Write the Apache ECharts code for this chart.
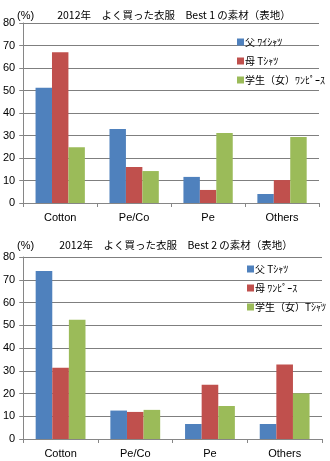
<!DOCTYPE html>
<html><head><meta charset="utf-8">
<script src="https://cdn.jsdelivr.net/npm/echarts@6/dist/echarts.min.js"></script>
<style>html,body{margin:0;padding:0;background:#fff}#c{width:330px;height:461px}</style>
</head><body><div id="c"></div>
<script>
const categories = ['Cotton', 'Pe/Co', 'Pe', 'Others'];
const yTicks = [0, 10, 20, 30, 40, 50, 60, 70, 80];
const title1 = '2012年　よく買った衣服　Best 1 の素材（表地）';
const title2 = '2012年　よく買った衣服　Best 2 の素材（表地）';
const names1 = ['父 ﾜｲｼｬﾂ', '母 Tｼｬﾂ', '学生（女）ﾜﾝﾋﾟｰｽ'];
const names2 = ['父 Tｼｬﾂ', '母 ﾜﾝﾋﾟｰｽ', '学生（女）Tｼｬﾂ'];
const best1Father = [51.2, 32.9, 11.6, 4.0];
const best1Mother = [67.0, 16.0, 5.8, 10.2];
const best1Student = [24.8, 14.2, 31.1, 29.3];
const best2Father = [73.8, 12.5, 6.6, 6.6];
const best2Mother = [31.3, 11.9, 23.8, 32.7];
const best2Student = [52.4, 12.8, 14.5, 20.1];

const colors = ['#4F81BD', '#C0504D', '#9BBB59'];
const FONT = '"Liberation Sans", "Noto Sans CJK JP", sans-serif';
const JFONT = '"Noto Sans CJK JP", sans-serif';

function xAxis(gi) {
  return {
    type: 'category', gridIndex: gi, data: categories,
    axisLine: {lineStyle: {color: '#868686', width: 1}},
    axisTick: {show: true, length: 4, inside: false, alignWithLabel: false, lineStyle: {color: '#868686'}},
    axisLabel: {color: '#000', fontSize: 11, fontFamily: FONT, margin: 9}
  };
}
function yAxis(gi) {
  return {
    type: 'value', gridIndex: gi, min: yTicks[0], max: yTicks[yTicks.length - 1], interval: 10,
    axisLine: {show: true, lineStyle: {color: '#868686', width: 1}},
    axisTick: {show: true, length: 4, lineStyle: {color: '#868686'}},
    splitLine: {show: true, lineStyle: {color: '#7f7f7f', width: 1}},
    axisLabel: {color: '#000', fontSize: 11, fontFamily: FONT, margin: 8}
  };
}
function bar(name, data, gi, ci) {
  return {
    name: name, type: 'bar', xAxisIndex: gi, yAxisIndex: gi, data: data,
    barGap: '0%', barCategoryGap: '33.3%',
    itemStyle: {color: colors[ci]}, animation: false
  };
}
const chart = echarts.init(document.getElementById('c'), null, {renderer: 'canvas'});
chart.setOption({
  animation: false,
  color: colors,
  title: [
    {text: title1, left: 169, top: 5, textAlign: 'center', textStyle: {fontSize: 10.5, fontWeight: 'normal', color: '#000', fontFamily: JFONT}},
    {text: '(%)', left: 12, top: 5, textStyle: {fontSize: 11, fontWeight: 'normal', color: '#000', fontFamily: FONT}},
    {text: title2, left: 171, top: 235, textAlign: 'center', textStyle: {fontSize: 10.5, fontWeight: 'normal', color: '#000', fontFamily: JFONT}},
    {text: '(%)', left: 12, top: 235, textStyle: {fontSize: 11, fontWeight: 'normal', color: '#000', fontFamily: FONT}}
  ],
  legend: [
    {data: names1, orient: 'vertical', left: 232, top: 32, itemWidth: 7, itemHeight: 7, itemGap: 9, icon: 'rect',
     textStyle: {fontSize: 10, color: '#000', fontFamily: JFONT, padding: [0, 0, 0, -4]}},
    {data: names2, orient: 'vertical', left: 242, top: 259, itemWidth: 7, itemHeight: 7, itemGap: 9, icon: 'rect',
     textStyle: {fontSize: 10, color: '#000', fontFamily: JFONT, padding: [0, 0, 0, -4]}}
  ],
  grid: [
    {left: 23, right: 11, top: 23, height: 180},
    {left: 23, right: 8, top: 257, height: 182}
  ],
  xAxis: [xAxis(0), xAxis(1)],
  yAxis: [yAxis(0), yAxis(1)],
  series: [
    bar(names1[0], best1Father, 0, 0),
    bar(names1[1], best1Mother, 0, 1),
    bar(names1[2], best1Student, 0, 2),
    bar(names2[0], best2Father, 1, 0),
    bar(names2[1], best2Mother, 1, 1),
    bar(names2[2], best2Student, 1, 2)
  ]
});
</script></body></html>
